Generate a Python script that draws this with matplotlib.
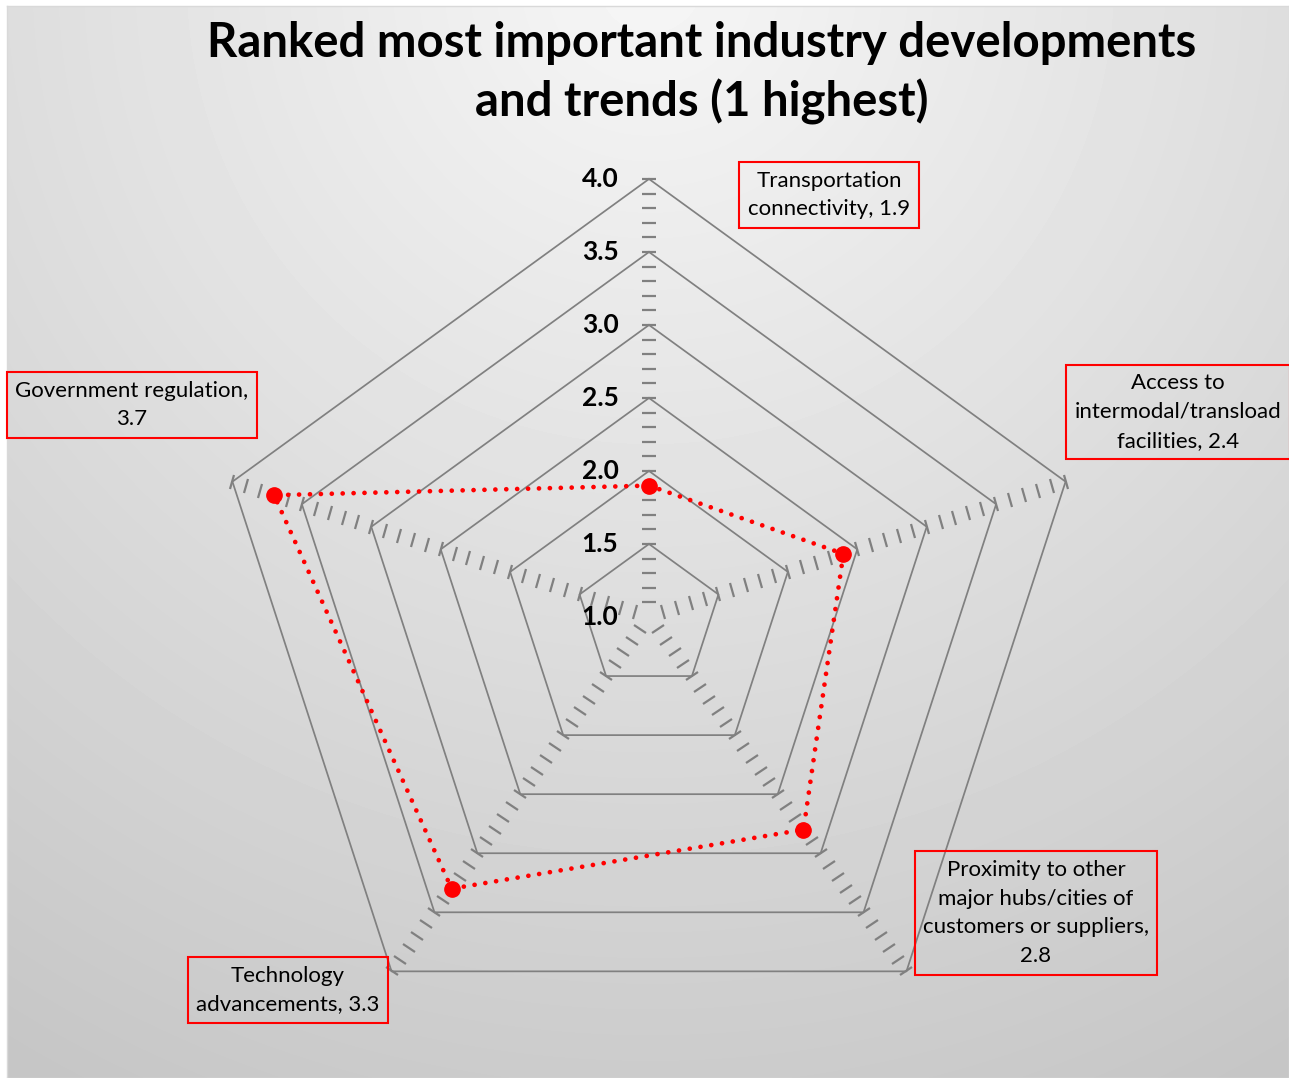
import numpy as np
import matplotlib
matplotlib.use("Agg")
import matplotlib.pyplot as plt
from matplotlib.markers import MarkerStyle
from matplotlib.transforms import Affine2D

W, H = 1289, 1078

categories = [
    "Transportation\nconnectivity, 1.9",
    "Access to\nintermodal/transload\nfacilities, 2.4",
    "Proximity to other\nmajor hubs/cities of\ncustomers or suppliers,\n2.8",
    "Technology\nadvancements, 3.3",
    "Government regulation,\n3.7",
]
values = [1.9, 2.4, 2.8, 3.3, 3.7]
grid_levels = [1.5, 2.0, 2.5, 3.0, 3.5, 4.0]
tick_labels = ["1.0", "1.5", "2.0", "2.5", "3.0", "3.5", "4.0"]

# label box centres in image pixels
label_pos = [(829, 195), (1178, 412), (1036, 913), (288, 990), (132, 405)]

plt.rcParams["font.family"] = ["Lato", "DejaVu Sans"]


def px(x, y):
    return x / W, 1 - y / H


fig = plt.figure(figsize=(W / 100, H / 100), dpi=100)
fig.patch.set_facecolor("white")

# gradient background
bg = fig.add_axes([7 / W, 0, 1 - 7 / W, 1 - 6 / H], zorder=0)
yy, xx = np.mgrid[6:H, 7:W]
d = np.sqrt((xx - 650.0) ** 2 + (yy + 20.0) ** 2) / 1250.0
shade = 0.965 - 0.19 * np.clip(d, 0, 1)
bg.imshow(shade, cmap="gray", vmin=0, vmax=1, aspect="auto", interpolation="bilinear")
bg.set_xticks([])
bg.set_yticks([])
for s in bg.spines.values():
    s.set_color("#d9d9d9")
    s.set_linewidth(1)

# radar axes: centre at (649, 617), radius 438 px
cx, cy, R = 649, 617, 438
ax = fig.add_axes([(cx - R) / W, (H - cy - R) / H, 2 * R / W, 2 * R / H],
                  projection="polar", zorder=1)
ax.patch.set_alpha(0)
ax.set_theta_zero_location("N")
ax.set_theta_direction(-1)
ax.set_ylim(1, 4)
ax.grid(False)
ax.spines["polar"].set_visible(False)
ax.set_xticks([])
ax.set_yticks([])

n = len(values)
theta = np.deg2rad(np.arange(n) * 360.0 / n)
theta_c = np.append(theta, theta[0])

for lev in grid_levels:
    ax.plot(theta_c, [lev] * (n + 1), color="#808080", lw=1.25, clip_on=False, zorder=2)

# minor tick marks along each spoke
tick_r = np.round(np.arange(1.1, 4.01, 0.1), 1)
for k in range(n):
    m = MarkerStyle("_", transform=Affine2D().rotate_deg(-72 * k))
    ax.plot([theta[k]] * len(tick_r), tick_r, linestyle="none", marker=m,
            markersize=10, markeredgewidth=1.6, markeredgecolor="#808080",
            clip_on=False, zorder=2)

for lab in tick_labels:
    ax.annotate(lab, xy=(0, float(lab)), xytext=(-22, 0), textcoords="offset points",
                ha="right", va="center", fontsize=19, fontweight="bold",
                annotation_clip=False, zorder=3)

vals_c = values + [values[0]]
ax.plot(theta_c, vals_c, color="red", lw=3.4, linestyle=(0, (0.01, 2.3)),
        dash_capstyle="round", clip_on=False, zorder=4)
ax.plot(theta, values, "o", color="red", markersize=11, clip_on=False, zorder=5)

for lab, (x, y) in zip(categories, label_pos):
    fig.text(*px(x, y), lab, ha="center", va="center", fontsize=16,
             linespacing=1.55, zorder=6,
             bbox=dict(boxstyle="square,pad=0.38", facecolor="none",
                       edgecolor="red", linewidth=1.5))

fig.text(*px(702, 73), "Ranked most important industry developments\nand trends (1 highest)",
         ha="center", va="center", fontsize=34, fontweight="bold", linespacing=1.35,
         zorder=6)

fig.savefig("out.png", dpi=100)
